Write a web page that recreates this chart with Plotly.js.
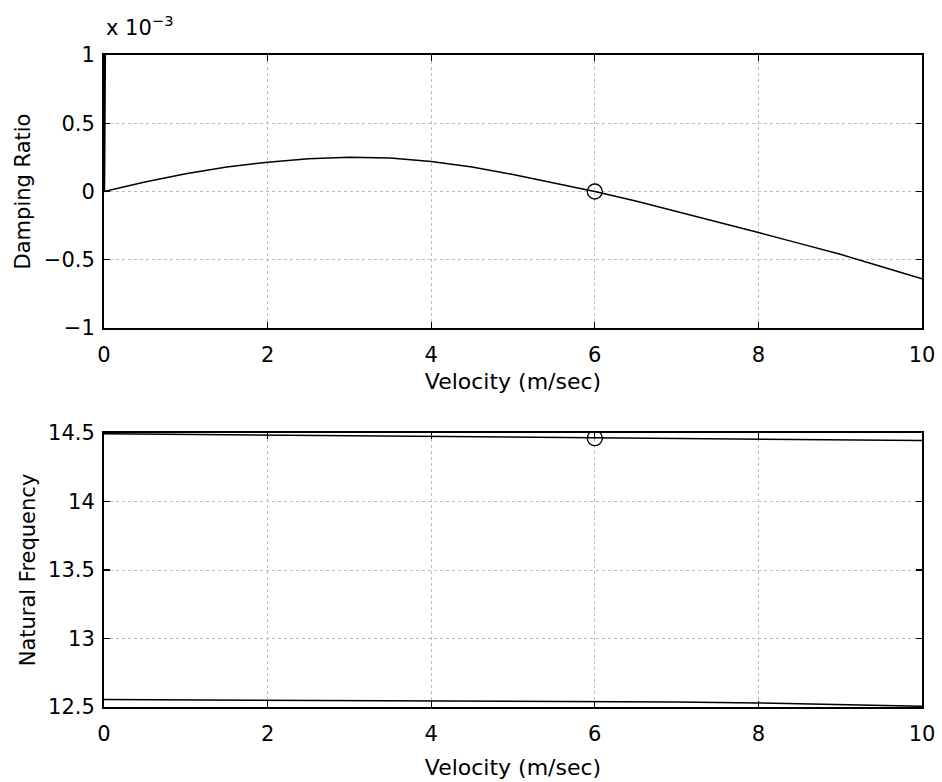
<!DOCTYPE html>
<html>
<head>
<meta charset="utf-8">
<script src="https://cdn.plot.ly/plotly-3.0.1.min.js"></script>
<style>
html,body{margin:0;padding:0;background:#fff;}
#chart{width:942px;height:782px;}
</style>
</head>
<body>
<div id="chart"></div>
<script>
// Data (damping ratio in units of 1e-3)
const velocity = [0, 0.5, 1, 1.5, 2, 2.5, 3, 3.5, 4, 4.5, 5, 5.5, 6, 6.5, 7, 7.5, 8, 8.5, 9, 9.5, 10];
const dampingE3 = [0, 0.07, 0.13, 0.18, 0.215, 0.24, 0.25, 0.245, 0.22, 0.18, 0.125, 0.065, 0, -0.07, -0.145, -0.22, -0.3, -0.38, -0.46, -0.55, -0.64];
const velocitySpike = [0, 0.01, 0.02];
const dampingSpikeE3 = [0, 1.0, 2.0];
const velocityFreq = [0, 1, 2, 3, 4, 5, 6, 7, 8, 9, 10];
const freqUpper = [14.495, 14.49, 14.485, 14.48, 14.475, 14.47, 14.462, 14.457, 14.453, 14.449, 14.445];
const freqLower = [12.555, 12.553, 12.551, 12.549, 12.547, 12.544, 12.54, 12.536, 12.53, 12.52, 12.505];
const flutterVelocity = [6];
const flutterDampingE3 = [0];
const flutterFreq = [14.462];
const xTicks = [0, 2, 4, 6, 8, 10];
const dampTicks = [-1, -0.5, 0, 0.5, 1];
const freqTicks = [12.5, 13, 13.5, 14, 14.5];

const FONT = 'DejaVu Sans, Liberation Sans, Arial, sans-serif';
const lineStyle = {color: '#000', width: 1.5};
const circle = {symbol: 'circle-open', size: 15, color: '#000', line: {width: 1.3, color: '#000'}};

const traces = [
  {x: velocity, y: dampingE3, xaxis: 'x', yaxis: 'y', mode: 'lines', line: lineStyle},
  {x: velocitySpike, y: dampingSpikeE3, xaxis: 'x', yaxis: 'y', mode: 'lines', line: {color: '#000', width: 2.5}},
  {x: flutterVelocity, y: flutterDampingE3, xaxis: 'x', yaxis: 'y', mode: 'markers', marker: circle},
  {x: velocityFreq, y: freqUpper, xaxis: 'x2', yaxis: 'y2', mode: 'lines', line: lineStyle},
  {x: velocityFreq, y: freqLower, xaxis: 'x2', yaxis: 'y2', mode: 'lines', line: lineStyle},
  {x: flutterVelocity, y: flutterFreq, xaxis: 'x2', yaxis: 'y2', mode: 'markers', marker: circle}
];

function xAxis(anchor, standoff) {
  return {
    anchor: anchor, domain: [104/942, 922/942], range: [0, 10],
    tickvals: xTicks, ticktext: xTicks.map(String),
    ticks: 'inside', ticklen: 6, tickwidth: 1.2, tickcolor: '#000',
    ticklabelstandoff: 7,
    showline: true, linecolor: '#000', linewidth: 2, mirror: 'ticks',
    showgrid: true, gridcolor: '#bdbdbd', griddash: 'dot', gridwidth: 1,
    zeroline: false,
    tickfont: {family: FONT, size: 21, color: '#000'},
    title: {text: 'Velocity (m/sec)', font: {family: FONT, size: 22, color: '#000'}, standoff: standoff}
  };
}
function yAxis(anchor, dom, range, ticks, labels, title) {
  return {
    anchor: anchor, domain: dom, range: range,
    tickvals: ticks, ticktext: labels,
    ticks: 'inside', ticklen: 6, tickwidth: 1.2, tickcolor: '#000',
    ticklabelstandoff: 3,
    showline: true, linecolor: '#000', linewidth: 2, mirror: 'ticks',
    showgrid: true, gridcolor: '#bdbdbd', griddash: 'dot', gridwidth: 1,
    zeroline: false,
    tickfont: {family: FONT, size: 21, color: '#000'},
    title: {text: title, font: {family: FONT, size: 21, color: '#000'}, standoff: 7}
  };
}

const layout = {
  width: 942, height: 782,
  margin: {l: 0, r: 0, t: 0, b: 0},
  paper_bgcolor: '#fff', plot_bgcolor: '#fff',
  showlegend: false,
  font: {family: FONT, color: '#000'},
  xaxis: xAxis('y', 7),
  yaxis: yAxis('x', [454/782, 727/782], [-1, 1], dampTicks,
               dampTicks.map(v => (v < 0 ? '\u2212' + Math.abs(v) : String(v))), 'Damping Ratio'),
  xaxis2: xAxis('y2', 14),
  yaxis2: yAxis('x2', [75/782, 349/782], [12.5, 14.5], freqTicks, freqTicks.map(String), 'Natural Frequency'),
  annotations: [{
    xref: 'paper', yref: 'paper', x: 104/942, y: (782 - 42)/782, xanchor: 'left', yanchor: 'bottom',
    text: 'x 10<sup>\u22123</sup>', showarrow: false,
    font: {family: FONT, size: 21, color: '#000'}
  }]
};

Plotly.newPlot('chart', traces, layout, {staticPlot: true, displayModeBar: false});
</script>
</body>
</html>
